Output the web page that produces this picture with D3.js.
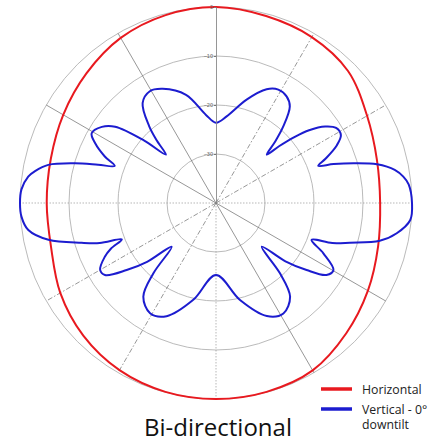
<!DOCTYPE html>
<html>
<head>
<meta charset="utf-8">
<script src="https://cdn.jsdelivr.net/npm/d3@7"></script>
<style>
    body { margin: 0; background: #fff; }
    svg { display: block; }
</style>
</head>
<body>
<div id="chart"></div>
<script>
// angles are in degrees, 0 = right, counter-clockwise; values in dB
let vertAngles = [0, 5.5, 8, 10.5, 13.5, 16, 18.3, 20, 22, 25.5, 28.5, 32, 35, 38, 40, 42, 43.6, 46, 48.7,
    52.6, 56.5, 61.2, 66, 73.5, 83, 90, 96.5, 105.5, 115, 120.8, 126.3, 131, 133.5, 136, 139, 142.9, 146.3,
    150.7, 153.7, 157.3, 159.9, 162, 164.3, 167.2, 170, 172, 176, 180, 184, 188.2, 192.4, 196.5, 199, 201.1,
    203.5, 205.8, 210, 213, 216.9, 220.5, 224.6, 228.3, 232.2, 239.1, 246.4, 256.8, 270, 283.9, 294.2, 301.4,
    308.3, 312.3, 316.3, 320, 323.5, 326.9, 330.3, 334.9, 338.9, 341, 343.5, 347, 350.5, 355];
let vertDb = [0, -0.5, -1.4, -2.9, -6.2, -10.6, -14.7, -17.8, -15.9, -12.7, -11.0, -11.1, -12.8, -15.9, -19.0,
    -22.7, -25.7, -22.7, -19.2, -15.2, -13.9, -13.6, -14.6, -18.0, -22.2, -23.6, -21.9, -17.1, -14.3, -13.5,
    -14.7, -19.2, -22.5, -25.8, -20.6, -14.2, -12.0, -10.9, -12.5, -15.4, -18.0, -14.7, -10.1, -4.9, -2.5,
    -1.3, -0.2, 0, -0.2, -1.3, -5.0, -11.4, -14.9, -19.4, -16.6, -14.8, -12.7, -13.0, -17.2, -21.5, -27.3,
    -20.8, -15.8, -13.8, -14.8, -19.7, -25.3, -19.6, -14.7, -13.6, -15.6, -20.6, -27.1, -21.5, -17.0, -13.1,
    -12.4, -15.8, -19.1, -14.9, -11.5, -5.7, -2.6, -0.2];

let horizAngles = [0, 15, 30, 45, 60, 75, 90, 105, 120, 135, 150, 165, 180, 195, 210, 225, 240, 255, 270, 285,
    300, 315, 330, 345];
let horizDb = [-6.5, -6.0, -4.4, -1.9, -0.9, -0.5, 0, -0.3, -1.1, -2.6, -4.0, -5.1, -5.45, -5.15, -3.3, -1.7,
    -0.6, -0.1, 0, -0.1, -0.55, -2.4, -4.2, -5.75];

let ringTicks = [0, -10, -20, -30];
let spokeAngles = [0, 30, 60, 120, 150, 180, 210, 240, 270, 300, 330];
let legendNames = [["Horizontal"], ["Vertical - 0°", "downtilt"]];
let titleText = "Bi-directional";

let width = 443, height = 442;
let cx = 216, cy = 203, R = 196;
let red = "#e8191f", blue = "#1c1ccf";

let svg = d3.select("#chart")
    .append("svg")
    .attr("width", width)
    .attr("height", height);

let r = d3.scaleLinear().domain([-40, 0]).range([0, R]);
let rad = a => a * Math.PI / 180;

let g = svg.append("g").attr("transform", "translate(" + cx + "," + cy + ")");

// rings
g.selectAll(".ring")
    .data(ringTicks)
    .enter()
    .append("circle")
    .attr("r", d => r(d))
    .attr("fill", "none")
    .attr("stroke", "#a8a8a8")
    .attr("stroke-width", 0.8);

// spokes, each direction drawn a bit differently like the original
function spokeDash(a) {
    if (a == 0 || a == 180 || a == 270) return "1.5,1.5";
    if (a == 30 || a == 60 || a == 210 || a == 240) return "5,2,1.5,2";
    return null;
}

g.selectAll(".spoke")
    .data(spokeAngles)
    .enter()
    .append("line")
    .attr("x1", 0)
    .attr("y1", 0)
    .attr("x2", d => r(0) * Math.cos(rad(d)))
    .attr("y2", d => -r(0) * Math.sin(rad(d)))
    .attr("stroke", d => (d % 90 == 0) ? "#9a9a9a" : "#6a6a6a")
    .attr("stroke-width", 0.7)
    .style("stroke-dasharray", d => spokeDash(d));

// radial dB axis along the top spoke
let yScale = d3.scaleLinear().domain([-40, 0]).range([cy, cy - R]);
let yAxis = d3.axisLeft(yScale)
    .tickValues(ringTicks)
    .tickSize(2)
    .tickSizeOuter(0)
    .tickPadding(1);

let axisG = svg.append("g")
    .attr("transform", "translate(" + cx + ",0)")
    .call(yAxis);
axisG.select(".domain").attr("stroke", "#8a8a8a").attr("stroke-width", 0.9);
axisG.selectAll(".tick line").attr("stroke", "#777");
axisG.selectAll(".tick text")
    .attr("fill", "#666")
    .style("font-family", "'Liberation Sans', Arial, sans-serif")
    .style("font-size", "5.5px");

// patterns
let radial = d3.lineRadial()
    .angle(d => rad(90 - d[0]))
    .radius(d => r(d[1]))
    .curve(d3.curveCatmullRomClosed.alpha(0.5));

g.append("path")
    .datum(horizAngles.map((a, i) => [a, horizDb[i]]))
    .attr("d", radial)
    .attr("fill", "none")
    .attr("stroke", red)
    .attr("stroke-width", 2);

g.append("path")
    .datum(vertAngles.map((a, i) => [a, vertDb[i]]))
    .attr("d", radial)
    .attr("fill", "none")
    .attr("stroke", blue)
    .attr("stroke-width", 2);

// legend
let legend = svg.append("g").attr("transform", "translate(321,389)");
let colors = [red, blue];

legend.selectAll(".swatch")
    .data(legendNames)
    .enter()
    .append("line")
    .attr("x1", 0).attr("x2", 31)
    .attr("y1", (d, i) => i * 20)
    .attr("y2", (d, i) => i * 20)
    .attr("stroke", (d, i) => colors[i])
    .attr("stroke-width", 3.5);

let labels = legend.selectAll(".lbl")
    .data(legendNames)
    .enter()
    .append("text")
    .attr("x", 41)
    .attr("y", (d, i) => 5 + i * 20)
    .style("font-family", "'Open Sans', sans-serif")
    .style("font-size", "12.3px")
    .style("fill", "#222");

labels.selectAll("tspan")
    .data(d => d)
    .enter()
    .append("tspan")
    .attr("x", 41)
    .attr("dy", (d, i) => i == 0 ? 0 : 15)
    .text(d => d);

svg.append("text")
    .attr("x", 218)
    .attr("y", 436)
    .attr("text-anchor", "middle")
    .text(titleText)
    .style("font-family", "'Open Sans', sans-serif")
    .style("font-size", "24px")
    .style("fill", "#111");
</script>
</body>
</html>
